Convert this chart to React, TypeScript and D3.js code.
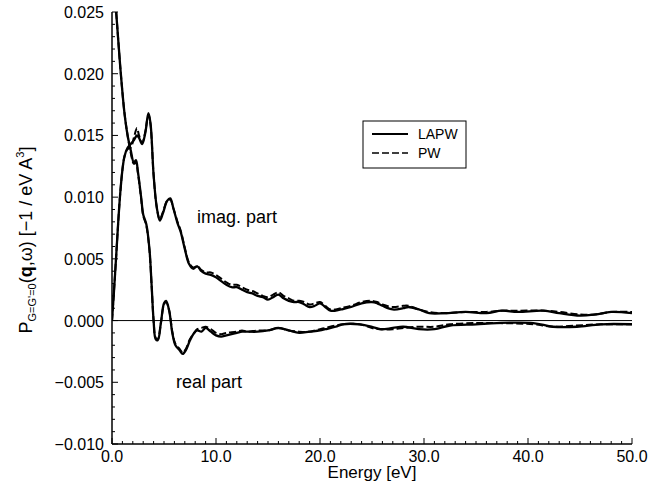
import React from "react";
import * as d3 from "d3";

const xTicks = [0, 10, 20, 30, 40, 50];
const yTicks = [-0.01, -0.005, 0, 0.005, 0.01, 0.015, 0.02, 0.025];

const imagLAPW: [number, number][] = [
  [0, 0], [0.2, 0.0025], [0.4, 0.0052], [0.6, 0.008], [0.8, 0.0104], [1.0, 0.0122], [1.2, 0.0133],
  [1.5, 0.014], [1.8, 0.0143], [2.1, 0.0146], [2.4, 0.015], [2.6, 0.0148], [2.9, 0.0143], [3.2, 0.0152],
  [3.5, 0.0168], [3.7, 0.016], [4.0, 0.0118], [4.3, 0.0092], [4.6, 0.0081], [4.9, 0.0087], [5.3, 0.0097],
  [5.6, 0.0099], [5.9, 0.0091], [6.3, 0.0079], [6.6, 0.0072], [7.0, 0.0058], [7.4, 0.0046], [7.8, 0.0042],
  [8.2, 0.0044], [8.6, 0.004], [9.0, 0.0038], [9.5, 0.0037], [10.0, 0.0035], [10.5, 0.0032], [11.0, 0.0029],
  [11.5, 0.0027], [12.0, 0.0027], [12.5, 0.0025], [13.0, 0.0023], [13.5, 0.0022], [14.0, 0.002], [14.5, 0.0019],
  [15.0, 0.0017], [15.5, 0.0019], [16.0, 0.0021], [16.5, 0.0018], [17.0, 0.0016], [17.5, 0.0015], [18.0, 0.0015],
  [18.5, 0.0013], [19.0, 0.0011], [19.5, 0.0012], [20.0, 0.0014], [20.5, 0.0011], [21.0, 0.0008], [21.5, 0.0008],
  [22.0, 0.0009], [23.0, 0.0011], [24.0, 0.0014], [25.0, 0.0015], [25.5, 0.0014], [26.0, 0.0012], [27.0, 0.0009],
  [28.0, 0.001], [28.5, 0.0011], [29.5, 0.0009], [30.5, 0.0006], [32.0, 0.0006], [34.0, 0.0007], [36.0, 0.0006],
  [37.5, 0.0008], [39.0, 0.0007], [41.5, 0.0008], [43.0, 0.0006], [45.0, 0.0004], [46.5, 0.0005], [48.0, 0.0007],
  [50.0, 0.0006],
];

const imagPW: [number, number][] = [
  [0, 0], [0.2, 0.0025], [0.4, 0.0052], [0.6, 0.008], [0.8, 0.0104], [1.0, 0.0122], [1.2, 0.0133],
  [1.5, 0.0139], [1.8, 0.014], [2.1, 0.0148], [2.4, 0.0156], [2.6, 0.015], [2.9, 0.0144], [3.2, 0.0153],
  [3.5, 0.0167], [3.7, 0.0159], [4.0, 0.0118], [4.3, 0.0092], [4.6, 0.0082], [4.9, 0.0088], [5.3, 0.0097],
  [5.6, 0.0098], [5.9, 0.0091], [6.3, 0.008], [6.6, 0.0073], [7.0, 0.0059], [7.4, 0.0047], [7.8, 0.0043],
  [8.2, 0.0044], [8.6, 0.0041], [9.0, 0.0039], [9.5, 0.0039], [10.0, 0.0037], [10.5, 0.0034], [11.0, 0.0031],
  [11.5, 0.0029], [12.0, 0.0029], [12.5, 0.0027], [13.0, 0.0025], [13.5, 0.0024], [14.0, 0.0022], [14.5, 0.002],
  [15.0, 0.0019], [15.5, 0.0021], [16.0, 0.0023], [16.5, 0.002], [17.0, 0.0018], [17.5, 0.0016], [18.0, 0.0016],
  [18.5, 0.0015], [19.0, 0.0013], [19.5, 0.0014], [20.0, 0.0015], [20.5, 0.0012], [21.0, 0.0009], [21.5, 0.0009],
  [22.0, 0.001], [23.0, 0.0012], [24.0, 0.0015], [25.0, 0.0016], [25.5, 0.0015], [26.0, 0.0013], [27.0, 0.0011],
  [28.0, 0.0012], [28.5, 0.0012], [29.5, 0.0009], [30.5, 0.0007], [32.0, 0.0006], [34.0, 0.0007], [36.0, 0.0007],
  [37.5, 0.0008], [39.0, 0.0008], [41.5, 0.0008], [43.0, 0.0007], [45.0, 0.0005], [46.5, 0.0005], [48.0, 0.0007],
  [50.0, 0.0007],
];

const realLAPW: [number, number][] = [
  [0, 0.029], [0.4, 0.025], [0.8, 0.0205], [1.2, 0.0168], [1.5, 0.015], [1.8, 0.0138], [2.1, 0.0128],
  [2.3, 0.013], [2.5, 0.012], [2.8, 0.01], [3.0, 0.0086], [3.3, 0.0078], [3.6, 0.0058], [3.8, 0.003],
  [4.0, 0.0], [4.2, -0.0015], [4.4, -0.0016], [4.7, -0.0002], [5.0, 0.0014], [5.2, 0.0016], [5.5, 0.0008],
  [5.8, -0.001], [6.1, -0.002], [6.5, -0.0024], [6.8, -0.0027], [7.1, -0.0024], [7.5, -0.0016], [7.9, -0.001],
  [8.2, -0.0008], [8.6, -0.0009], [9.0, -0.0006], [9.5, -0.0009], [10.0, -0.0012], [10.5, -0.0013], [11.0, -0.0012],
  [12.0, -0.001], [12.5, -0.0009], [13.0, -0.0009], [14.0, -0.0009], [15.0, -0.0008], [16.0, -0.0006], [17.0, -0.0008],
  [18.0, -0.001], [19.0, -0.0009], [20.0, -0.0008], [20.5, -0.0007], [21.5, -0.0005], [22.2, -0.0003], [23.8, -0.0003],
  [25.0, -0.0005], [25.8, -0.0007], [27.0, -0.0006], [28.0, -0.0005], [29.5, -0.0007], [31.0, -0.0007], [32.5, -0.0004],
  [35.0, -0.0003], [37.0, -0.0002], [40.5, -0.0002], [42.4, -0.0005], [44.7, -0.0005], [47.0, -0.0003], [50.0, -0.0003],
];

const realPW: [number, number][] = [
  [0, 0.029], [0.4, 0.025], [0.8, 0.0205], [1.2, 0.0168], [1.5, 0.015], [1.8, 0.0136], [2.1, 0.0127],
  [2.3, 0.0128], [2.5, 0.0119], [2.8, 0.0099], [3.0, 0.0085], [3.3, 0.0077], [3.6, 0.0057], [3.8, 0.003],
  [4.0, 0.0], [4.2, -0.0014], [4.4, -0.0015], [4.7, -0.0002], [5.0, 0.0013], [5.2, 0.0015], [5.5, 0.0008],
  [5.8, -0.0009], [6.1, -0.0019], [6.5, -0.0023], [6.8, -0.0026], [7.1, -0.0023], [7.5, -0.0015], [7.9, -0.001],
  [8.2, -0.0007], [8.6, -0.0006], [9.0, -0.0005], [9.5, -0.0007], [10.0, -0.001], [10.5, -0.0011], [11.0, -0.001],
  [12.0, -0.0009], [12.5, -0.0008], [13.0, -0.0009], [14.0, -0.0008], [15.0, -0.0008], [16.0, -0.0006], [17.0, -0.0008],
  [18.0, -0.0009], [19.0, -0.0009], [20.0, -0.0007], [20.5, -0.0006], [21.5, -0.0004], [22.2, -0.0003], [23.8, -0.0003],
  [25.0, -0.0006], [25.8, -0.0007], [27.0, -0.0007], [28.0, -0.0006], [29.5, -0.0005], [31.0, -0.0005], [32.5, -0.0003],
  [35.0, -0.0002], [37.0, -0.0002], [40.5, -0.0003], [42.4, -0.0005], [44.7, -0.0004], [47.0, -0.0003], [50.0, -0.0003],
];

const W = 668;
const H = 491;
const L = 112, R = 632, T = 12, B = 444;
const FONT = "'Liberation Sans', Arial, Helvetica, sans-serif";

export default function App() {
  const x = d3.scaleLinear().domain([0, 50]).range([L, R]);
  const y = d3.scaleLinear().domain([-0.01, 0.025]).range([B, T]);
  const line = d3
    .line<[number, number]>()
    .x((d) => x(d[0]))
    .y((d) => y(d[1]))
    .curve(d3.curveCatmullRom.alpha(0.5));

  const xMinor = d3.range(0, 51, 1);
  const yMinor = d3.range(-10, 26, 1).map((v) => v / 1000);

  return (
    <svg width={W} height={H} style={{ position: "absolute", left: 0, top: 0, background: "#fff" }}>
      <defs>
        <clipPath id="plotclip">
          <rect x={L} y={T} width={R - L} height={B - T} />
        </clipPath>
      </defs>
      <rect x={0} y={0} width={W} height={H} fill="#fff" />

      {/* zero line */}
      <line x1={x(0)} x2={x(50)} y1={y(0)} y2={y(0)} stroke="#000" strokeWidth={1} />

      <g clipPath="url(#plotclip)" fill="none" stroke="#000">
        <path d={line(imagPW) || ""} strokeWidth={2} strokeDasharray="7,3" />
        <path d={line(realPW) || ""} strokeWidth={2} strokeDasharray="7,3" />
        <path d={line(imagLAPW) || ""} strokeWidth={2.3} />
        <path d={line(realLAPW) || ""} strokeWidth={2.3} />
      </g>

      {/* axes */}
      <line x1={L} x2={L} y1={T} y2={B} stroke="#000" strokeWidth={1.5} />
      <line x1={L} x2={R} y1={B} y2={B} stroke="#000" strokeWidth={1.5} />

      {xMinor.map((v) => (
        <line key={"xm" + v} x1={x(v)} x2={x(v)} y1={B} y2={B - (v % 10 === 0 ? 6 : 3)} stroke="#000" strokeWidth={1} />
      ))}
      {yMinor.map((v, i) => (
        <line key={"ym" + i} x1={L} x2={L + ((i % 5) === 0 ? 6 : 3)} y1={y(v)} y2={y(v)} stroke="#000" strokeWidth={1} />
      ))}

      {xTicks.map((v) => (
        <text key={"xt" + v} x={x(v)} y={B + 18} textAnchor="middle" fontFamily={FONT} fontSize={16} fill="#000">
          {v.toFixed(1)}
        </text>
      ))}
      {yTicks.map((v) => (
        <text key={"yt" + v} x={L - 8} y={y(v) + 6} textAnchor="end" fontFamily={FONT} fontSize={16} fill="#000">
          {v < 0 ? "\u2212" + Math.abs(v).toFixed(3) : v.toFixed(3)}
        </text>
      ))}

      <text x={(L + R) / 2} y={478} textAnchor="middle" fontFamily={FONT} fontSize={17} fill="#000">
        Energy [eV]
      </text>

      <text
        transform={`translate(32, 240) rotate(-90)`}
        textAnchor="middle"
        fontFamily={FONT}
        fontSize={18}
        fill="#000"
      >
        <tspan>P</tspan>
        <tspan fontSize={11} dy={4}>G=G'=0</tspan>
        <tspan dy={-4}>(</tspan>
        <tspan fontWeight="bold">q</tspan>
        <tspan>,ω) [−1 / eV A</tspan>
        <tspan fontSize={11} dy={-8}>3</tspan>
        <tspan dy={8}>]</tspan>
      </text>

      <text x={197} y={223} fontFamily={FONT} fontSize={18} fill="#000">imag. part</text>
      <text x={176} y={388} fontFamily={FONT} fontSize={18} fill="#000">real part</text>

      {/* legend */}
      <rect x={363} y={121} width={103} height={47} fill="#fff" stroke="#000" strokeWidth={1} />
      <line x1={372} x2={408} y1={134} y2={134} stroke="#000" strokeWidth={2} />
      <text x={418} y={139} fontFamily={FONT} fontSize={14} fill="#000">LAPW</text>
      <line x1={372} x2={408} y1={153} y2={153} stroke="#000" strokeWidth={1.5} strokeDasharray="7,3" />
      <text x={418} y={158} fontFamily={FONT} fontSize={14} fill="#000">PW</text>
    </svg>
  );
}
